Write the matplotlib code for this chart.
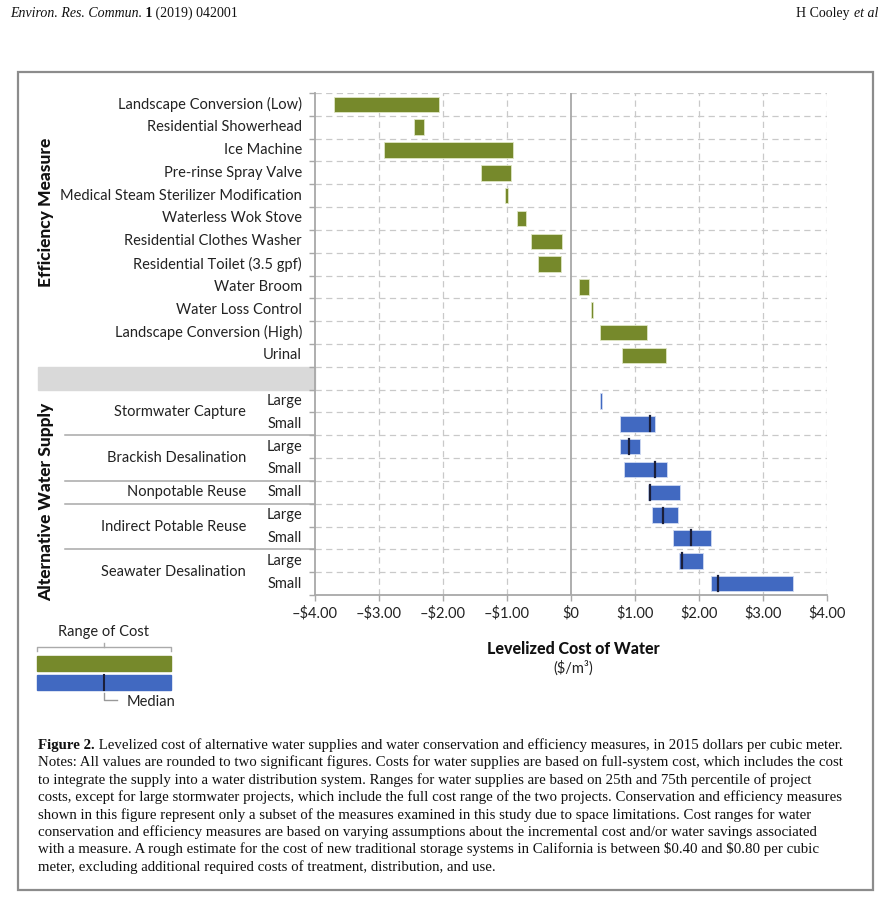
import numpy as np
import matplotlib.pyplot as plt
from matplotlib.patches import Rectangle

# ---- data ($/m3) ----
eff_labels = [
    "Landscape Conversion (Low)",
    "Residential Showerhead",
    "Ice Machine",
    "Pre-rinse Spray Valve",
    "Medical Steam Sterilizer Modification",
    "Waterless Wok Stove",
    "Residential Clothes Washer",
    "Residential Toilet (3.5 gpf)",
    "Water Broom",
    "Water Loss Control",
    "Landscape Conversion (High)",
    "Urinal",
]
eff_low = [-3.70, -2.45, -2.92, -1.40, -1.03, -0.85, -0.62, -0.51, 0.13, 0.31, 0.46, 0.79]
eff_high = [-2.07, -2.30, -0.91, -0.93, -0.99, -0.71, -0.14, -0.15, 0.28, 0.34, 1.18, 1.48]

supply_groups = ["Stormwater Capture", "Brackish Desalination", "Nonpotable Reuse",
                 "Indirect Potable Reuse", "Seawater Desalination"]
supply_group_idx = [0, 0, 1, 1, 2, 3, 3, 4, 4]
supply_sizes = ["Large", "Small", "Large", "Small", "Small", "Large", "Small", "Large", "Small"]
supply_low = [0.45, 0.76, 0.76, 0.83, 1.21, 1.27, 1.60, 1.69, 2.18]
supply_high = [0.48, 1.32, 1.08, 1.50, 1.70, 1.67, 2.18, 2.07, 3.47]
supply_median = [np.nan, 1.23, 0.90, 1.31, 1.24, 1.43, 1.88, 1.73, 2.29]

x_ticks = [-4, -3, -2, -1, 0, 1, 2, 3, 4]
x_ticklabels = ["\u2013$4.00", "\u2013$3.00", "\u2013$2.00", "\u2013$1.00", "$0",
                "$1.00", "$2.00", "$3.00", "$4.00"]

caption_lines = [
    "Levelized cost of alternative water supplies and water conservation and efficiency measures, in 2015 dollars per cubic meter.",
    "Notes: All values are rounded to two significant figures. Costs for water supplies are based on full-system cost, which includes the cost",
    "to integrate the supply into a water distribution system. Ranges for water supplies are based on 25th and 75th percentile of project",
    "costs, except for large stormwater projects, which include the full cost range of the two projects. Conservation and efficiency measures",
    "shown in this figure represent only a subset of the measures examined in this study due to space limitations. Cost ranges for water",
    "conservation and efficiency measures are based on varying assumptions about the incremental cost and/or water savings associated",
    "with a measure. A rough estimate for the cost of new traditional storage systems in California is between $0.40 and $0.80 per cubic",
    "meter, excluding additional required costs of treatment, distribution, and use.",
]

GREEN = "#76892b"
BLUE = "#4169c1"
MED = "#1b1f3a"
GRID = "#c9c9c9"
AXIS = "#a8a8a8"
SANS = ["Lato", "DejaVu Sans"]
SERIF = ["Liberation Serif", "DejaVu Serif"]

plt.rcParams["font.family"] = SANS

W, H = 896, 901
fig = plt.figure(figsize=(W / 100, H / 100), dpi=100)

# overlay in pixel units for frame, header, legend and caption
bg = fig.add_axes([0, 0, 1, 1])
bg.set_xlim(0, W)
bg.set_ylim(H, 0)
bg.axis("off")

L, R, T, B = 315, 827, 93, 595
ax = fig.add_axes([L / W, 1 - B / H, (R - L) / W, (B - T) / H])


def fx(px):
    return (px - L) / (R - L)


n_eff = len(eff_labels)
gap_row = n_eff
sup_rows = [n_eff + 1 + i for i in range(len(supply_low))]
n_rows = n_eff + 1 + len(supply_low)

# grid
for b in np.arange(-0.5, n_rows - 0.5, 1.0):
    ax.axhline(b, color=GRID, lw=0.9, ls=(0, (5, 3.5)), zorder=0)
for xv in x_ticks[1:]:
    if xv != 0:
        ax.axvline(xv, color=GRID, lw=0.9, ls=(0, (5, 3.5)), zorder=0)
ax.axvline(0, color=AXIS, lw=1.3, zorder=1)

# bars
eff_rows = np.arange(n_eff)
ax.barh(eff_rows, np.array(eff_high) - np.array(eff_low), left=eff_low, height=0.68,
        color=GREEN, edgecolor="#dfe6c4", linewidth=0.6, zorder=3)
ax.barh(sup_rows, np.array(supply_high) - np.array(supply_low), left=supply_low, height=0.68,
        color=BLUE, edgecolor="#cfdaf2", linewidth=0.6, zorder=3)
for r, m in zip(sup_rows, supply_median):
    if not np.isnan(m):
        ax.plot([m, m], [r - 0.33, r + 0.33], color=MED, lw=1.6, zorder=4)

ax.set_xlim(-4, 4)
ax.set_ylim(n_rows - 0.5, -0.5)
ax.set_xticks(x_ticks)
ax.set_xticklabels(x_ticklabels, fontsize=10.5, color="#222222")
ax.set_yticks(np.arange(-0.5, n_rows, 1.0))
ax.set_yticklabels([])
ax.tick_params(axis="both", colors=AXIS, length=4, width=1)
ax.tick_params(axis="x", labelcolor="#222222", pad=4)
for s in ["top", "right"]:
    ax.spines[s].set_visible(False)
for s in ["left", "bottom"]:
    ax.spines[s].set_color(AXIS)
    ax.spines[s].set_linewidth(1.3)

ytr = ax.get_yaxis_transform()

# row labels
for r, lab in zip(eff_rows, eff_labels):
    ax.text(fx(302), r, lab, transform=ytr, ha="right", va="center", fontsize=10.5,
            color="#222222")
for r, s in zip(sup_rows, supply_sizes):
    ax.text(fx(302), r, s, transform=ytr, ha="right", va="center", fontsize=10.5,
            color="#222222")
for g, name in enumerate(supply_groups):
    rows = [sup_rows[i] for i in range(len(sup_rows)) if supply_group_idx[i] == g]
    ax.text(fx(246), np.mean(rows), name, transform=ytr, ha="right", va="center",
            fontsize=10.5, color="#222222")
# separators between supply groups
for i in range(1, len(sup_rows)):
    if supply_group_idx[i] != supply_group_idx[i - 1]:
        yb = sup_rows[i] - 0.5
        ax.plot([fx(65), 0], [yb, yb], transform=ytr, color=AXIS, lw=1.1, clip_on=False)

# gray spacer row
ax.add_patch(Rectangle((fx(38), gap_row - 0.5), -fx(38), 1.0, transform=ytr,
                       color="#d9d9d9", clip_on=False, zorder=0))

# group titles
fig.text(46 / W, 1 - 212 / H, "Efficiency Measure", rotation=90, ha="center", va="center",
         fontsize=12.5, fontweight="black", color="#111111")
fig.text(46 / W, 1 - 502 / H, "Alternative Water Supply", rotation=90, ha="center",
         va="center", fontsize=12.5, fontweight="black", color="#111111")

# axis title
bg.text(573, 649, "Levelized Cost of Water", ha="center", va="center", fontsize=11.5,
        fontweight="black", color="#111111")
bg.text(573, 668, "($/m\u00b3)", ha="center", va="center", fontsize=10.5, color="#222222")

# legend
bg.text(104, 632, "Range of Cost", ha="center", va="center", fontsize=10.5, color="#222222")
bg.plot([37, 37, 171, 171], [651, 647, 647, 651], color="#aaaaaa", lw=1)
bg.plot([104, 104], [643, 647], color="#aaaaaa", lw=1)
bg.add_patch(Rectangle((37, 656), 134, 15, color=GREEN))
bg.add_patch(Rectangle((37, 675), 134, 15, color=BLUE))
bg.plot([104, 104], [675, 690], color=MED, lw=1.5)
bg.plot([104, 104, 117], [693, 700, 700], color="#999999", lw=1)
bg.text(127, 702, "Median", ha="left", va="center", fontsize=10.5, color="#222222")

# frame
bg.add_patch(Rectangle((18, 72), 855, 818, fill=False, edgecolor="#8c8c8c", lw=1.6))


def draw_runs(x, y, runs, size, align="left"):
    renderer = fig.canvas.get_renderer()
    placed = []
    cx = x
    for s, style, weight in runs:
        t = bg.text(cx, y, s, fontsize=size, family=SERIF, style=style, weight=weight,
                    va="baseline", ha="left", color="#111111", parse_math=False)
        w = t.get_window_extent(renderer).width
        placed.append((t, cx))
        cx += w
    if align == "right":
        shift = cx - x
        for t, px in placed:
            t.set_x(px - shift)


# running header
draw_runs(10, 17, [("Environ. Res. Commun.", "italic", "normal"), (" 1", "normal", "bold"),
                   (" (2019) 042001", "normal", "normal")], 10)
draw_runs(878, 17, [("H Cooley ", "normal", "normal"), ("et al", "italic", "normal")], 10,
          align="right")

# caption
cap_y0 = 749
cap_dy = 17.4
cap_size = 10.7
draw_runs(38, cap_y0, [("Figure 2.", "normal", "bold"), (" " + caption_lines[0], "normal", "normal")],
          cap_size)
for i, line in enumerate(caption_lines[1:], start=1):
    draw_runs(38, cap_y0 + i * cap_dy, [(line, "normal", "normal")], cap_size)

fig.savefig("out.png", dpi=100)
